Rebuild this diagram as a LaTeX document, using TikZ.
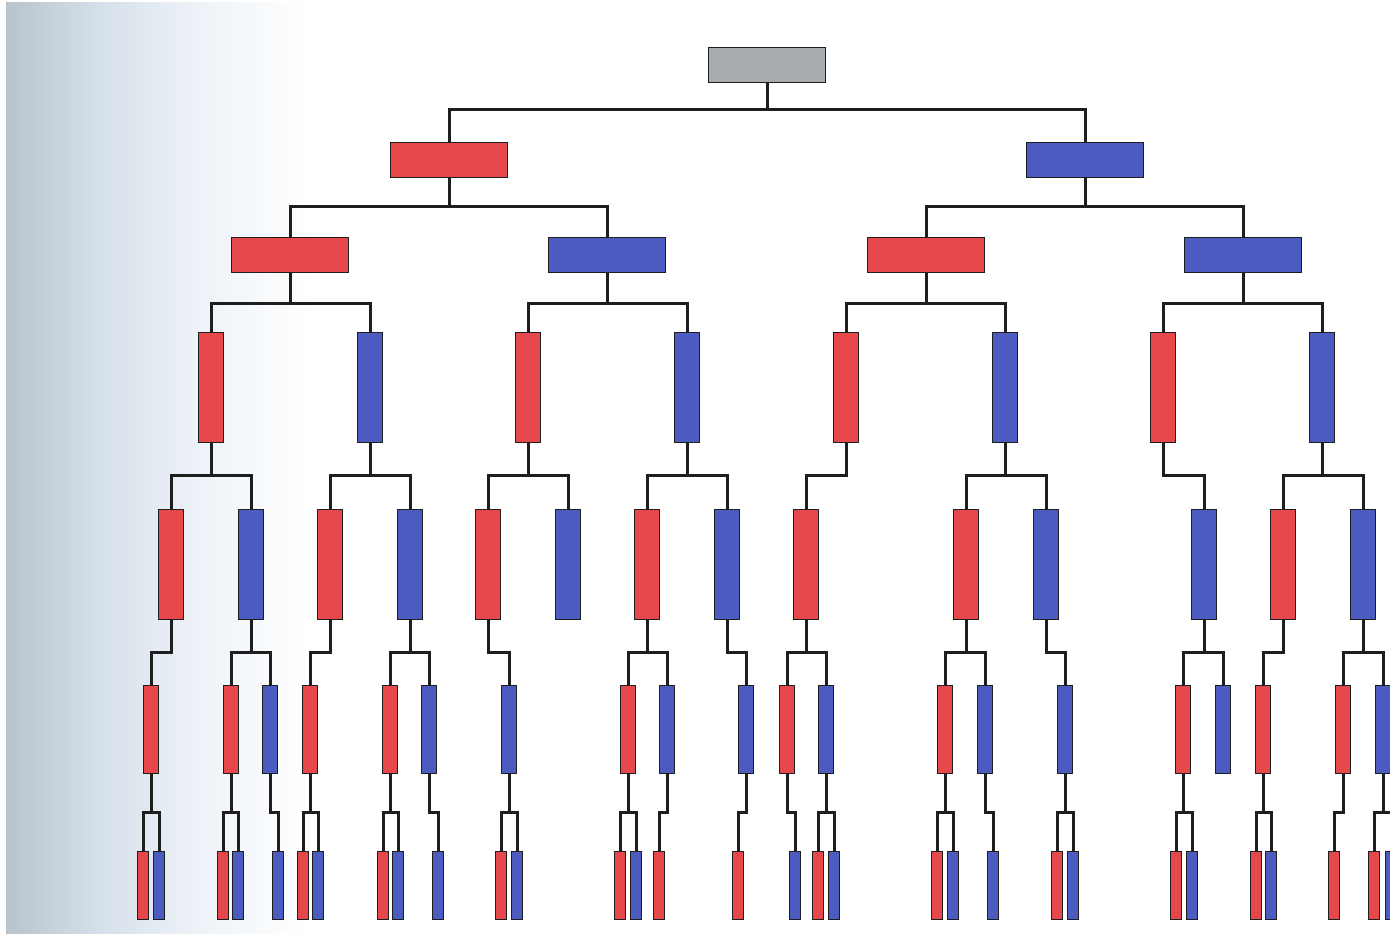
\documentclass[tikz,border=0pt]{standalone}
\definecolor{cr}{HTML}{E5474B}
\definecolor{cb}{HTML}{4B5BBF}
\definecolor{cg}{HTML}{A8ABAE}
\definecolor{ln}{HTML}{1E1E1E}
\definecolor{bga}{HTML}{B9C3CB}
\definecolor{bgb}{HTML}{D6E0EA}
\definecolor{bgc}{HTML}{EEF3F8}
\begin{document}
\begin{tikzpicture}[x=1pt,y=-1pt,
  bx/.style={draw=ln,line width=0.8pt,inner sep=0pt,outer sep=0pt},
  lA/.style={bx,minimum width=117pt,minimum height=35pt},
  lB/.style={bx,minimum width=25pt,minimum height=110pt},
  lC/.style={bx,minimum width=15pt,minimum height=88pt},
  lD/.style={bx,minimum width=11pt,minimum height=68pt},
  conn/.style={draw=ln,line width=3pt}]
\clip (0,0) rectangle (1390,939);
\fill[white] (0,0) rectangle (1390,939);
\shade[left color=bga, right color=bgb] (6,3) rectangle (100.5,933);
\shade[left color=bgb, right color=bgc] (100,3) rectangle (200.5,933);
\shade[left color=bgc, right color=white] (200,3) rectangle (310,933);
% level 0
\node[lA,fill=cg] (R) at (767,64.5) {};
% level 1
\foreach \n/\x/\c in {R0/449/cr, R1/1085/cb}
  \node[lA,fill=\c] (\n) at (\x,159.5) {};
% level 2
\foreach \n/\x/\c in {R00/290/cr, R01/607/cb, R10/926/cr, R11/1243/cb}
  \node[lA,fill=\c] (\n) at (\x,254.5) {};
% level 3
\foreach \n/\x/\c in {R000/211/cr, R001/370/cb, R010/528/cr, R011/687/cb,
                      R100/846/cr, R101/1005/cb, R110/1163/cr, R111/1322/cb}
  \node[lB,fill=\c] (\n) at (\x,387.5) {};
% level 4
\foreach \n/\x/\c in {R0000/171/cr, R0001/251/cb, R0010/330/cr, R0011/410/cb,
                      R0100/488/cr, R0101/568/cb, R0110/647/cr, R0111/727/cb,
                      R1000/806/cr, R1010/966/cr, R1011/1046/cb, R1101/1204/cb,
                      R1110/1283/cr, R1111/1363/cb}
  \node[lB,fill=\c] (\n) at (\x,564.5) {};
% level 5
\foreach \n/\x/\c in {R00000/151/cr, R00010/231/cr, R00011/270/cb, R00100/310/cr,
                      R00110/390/cr, R00111/429/cb, R01001/509/cb, R01100/628/cr,
                      R01101/667/cb, R01111/746/cb, R10000/787/cr, R10001/826/cb,
                      R10100/945/cr, R10101/985/cb, R10111/1065/cb, R11010/1183/cr,
                      R11011/1223/cb, R11100/1263/cr, R11110/1343/cr, R11111/1383/cb}
  \node[lC,fill=\c] (\n) at (\x,729.5) {};
% level 6
\foreach \n/\x/\c in {R000000/143/cr, R000001/159/cb, R000100/223/cr, R000101/238/cb,
                      R000111/278/cb, R001000/303/cr, R001001/318/cb, R001100/383/cr,
                      R001101/398/cb, R001111/438/cb, R010010/501/cr, R010011/517/cb,
                      R011000/620/cr, R011001/636/cb, R011010/659/cr, R011110/738/cr,
                      R100001/795/cb, R100010/818/cr, R100011/834/cb, R101000/937/cr,
                      R101001/953/cb, R101011/993/cb, R101110/1057/cr, R101111/1073/cb,
                      R110100/1176/cr, R110101/1192/cb, R111000/1256/cr, R111001/1271/cb,
                      R111100/1334/cr, R111110/1374/cr, R111111/1391/cb}
  \node[lD,fill=\c] (\n) at (\x,885.5) {};
% connectors
\foreach \p/\c in {R/R0, R/R1}
  \draw[conn] (\p.south) -- ++(0,28) -| (\c.north);
\foreach \p/\c in {R0/R00, R0/R01, R1/R10, R1/R11}
  \draw[conn] (\p.south) -- ++(0,29) -| (\c.north);
\foreach \p/\c in {R00/R000, R00/R001, R01/R010, R01/R011,
                   R10/R100, R10/R101, R11/R110, R11/R111}
  \draw[conn] (\p.south) -- ++(0,31) -| (\c.north);
\foreach \p/\c in {R000/R0000, R000/R0001, R001/R0010, R001/R0011,
                   R010/R0100, R010/R0101, R011/R0110, R011/R0111,
                   R100/R1000, R101/R1010, R101/R1011, R110/R1101,
                   R111/R1110, R111/R1111}
  \draw[conn] (\p.south) -- ++(0,32.5) -| (\c.north);
\foreach \p/\c in {R0000/R00000, R0001/R00010, R0001/R00011, R0010/R00100,
                   R0011/R00110, R0011/R00111, R0100/R01001, R0110/R01100,
                   R0110/R01101, R0111/R01111, R1000/R10000, R1000/R10001,
                   R1010/R10100, R1010/R10101, R1011/R10111, R1101/R11010,
                   R1101/R11011, R1110/R11100, R1111/R11110, R1111/R11111}
  \draw[conn] (\p.south) -- ++(0,32.5) -| (\c.north);
\foreach \p/\c in {R00000/R000000, R00000/R000001, R00010/R000100, R00010/R000101,
                   R00011/R000111, R00100/R001000, R00100/R001001, R00110/R001100,
                   R00110/R001101, R00111/R001111, R01001/R010010, R01001/R010011,
                   R01100/R011000, R01100/R011001, R01101/R011010, R01111/R011110,
                   R10000/R100001, R10001/R100010, R10001/R100011, R10100/R101000,
                   R10100/R101001, R10101/R101011, R10111/R101110, R10111/R101111,
                   R11010/R110100, R11010/R110101, R11100/R111000, R11100/R111001,
                   R11110/R111100, R11111/R111110, R11111/R111111}
  \draw[conn] (\p.south) -- ++(0,38.5) -| (\c.north);
\end{tikzpicture}
\end{document}
